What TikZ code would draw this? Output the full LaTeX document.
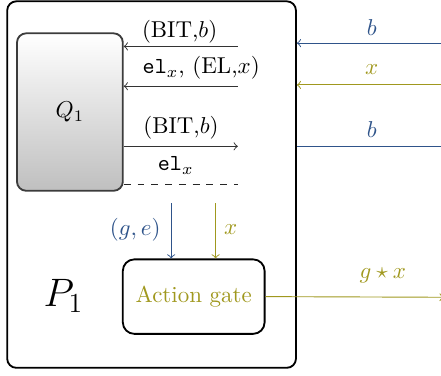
\documentclass[tikz,border=0pt]{standalone}
\usepackage{amssymb}
\usetikzlibrary{calc}
\definecolor{bitblue}{RGB}{47,84,138}
\definecolor{elolive}{RGB}{160,152,30}
\definecolor{boxgray}{RGB}{60,60,60}
\begin{document}
\begin{tikzpicture}[
            wire/.style={->, color=black!80},
            bluewire/.style={->, color=bitblue},
            olivewire/.style={->, color=elolive},
        ]
            \useasboundingbox (0, 0) rectangle (6.75, 5.74);
            % party and sub-party
            \node[draw, thick, rounded corners=4pt, minimum width=4.42cm, minimum height=5.61cm] (p1) at (2.32, 2.915) {};
            \node[draw=boxgray, thick, rounded corners=4pt, top color=white, bottom color=black!25, minimum width=1.62cm, minimum height=2.41cm] (q1) at (1.07, 4.025) {$ Q_1 $};
            \node[draw, thick, rounded corners=5pt, minimum width=2.17cm, minimum height=1.14cm, text=elolive] (gate) at (2.965, 1.2) {Action gate};
            \node (p1label) at (0.97, 1.21) {\LARGE $ P_1 $};
            % free ends
            \coordinate (bitin) at (3.64, 5.03);
            \coordinate (elin) at (3.64, 4.42);
            \coordinate (bitout) at (3.64, 3.50);
            \coordinate (dashend) at (3.64, 2.92);
            \coordinate (gtop) at (2.62, 2.63);
            \coordinate (xtop) at (3.30, 2.63);
            \coordinate (bext) at (6.75, 5.08);
            \coordinate (xext) at (6.75, 4.44);
            \coordinate (bextout) at (6.95, 3.50);
            \coordinate (gxext) at (6.79, 1.19);
            % inside P1
            \draw[wire] (bitin) -- (bitin -| q1.east);
            \draw[wire] (elin) -- (elin -| q1.east);
            \draw[wire] (bitout -| q1.east) -- (bitout);
            \draw[dashed, color=black!85] (dashend -| q1.east) -- (dashend);
            \node (bitinlabel) at (2.75, 5.25) {(BIT,$b$)};
            \node (elinlabel) at (3.08, 4.70) {$\texttt{el}_x$, (EL,$x$)};
            \node (bitoutlabel) at (2.77, 3.78) {(BIT,$b$)};
            \node (eloutlabel) at (2.69, 3.21) {$\texttt{el}_x$};
            \draw[bluewire] (gtop) -- (gtop |- gate.north);
            \draw[olivewire] (xtop) -- (xtop |- gate.north);
            \node[text=bitblue] (gelabel) at (2.07, 2.22) {$ (g,e) $};
            \node[text=elolive] (xlabel) at (3.53, 2.22) {$ x $};
            % outside P1
            \draw[bluewire] (bext) -- (bext -| p1.east);
            \draw[olivewire] (xext) -- (xext -| p1.east);
            \draw[bluewire] (bitout -| p1.east) -- (bextout);
            \draw[olivewire] (gate.east) -- (gxext);
            \node[text=bitblue] (bextlabel) at (5.69, 5.32) {$ b $};
            \node[text=elolive] (xextlabel) at (5.69, 4.68) {$ x $};
            \node[text=bitblue] (bextoutlabel) at (5.69, 3.76) {$ b $};
            \node[text=elolive] (gxlabel) at (5.86, 1.53) {$ g\star x $};
        \end{tikzpicture}
\end{document}
